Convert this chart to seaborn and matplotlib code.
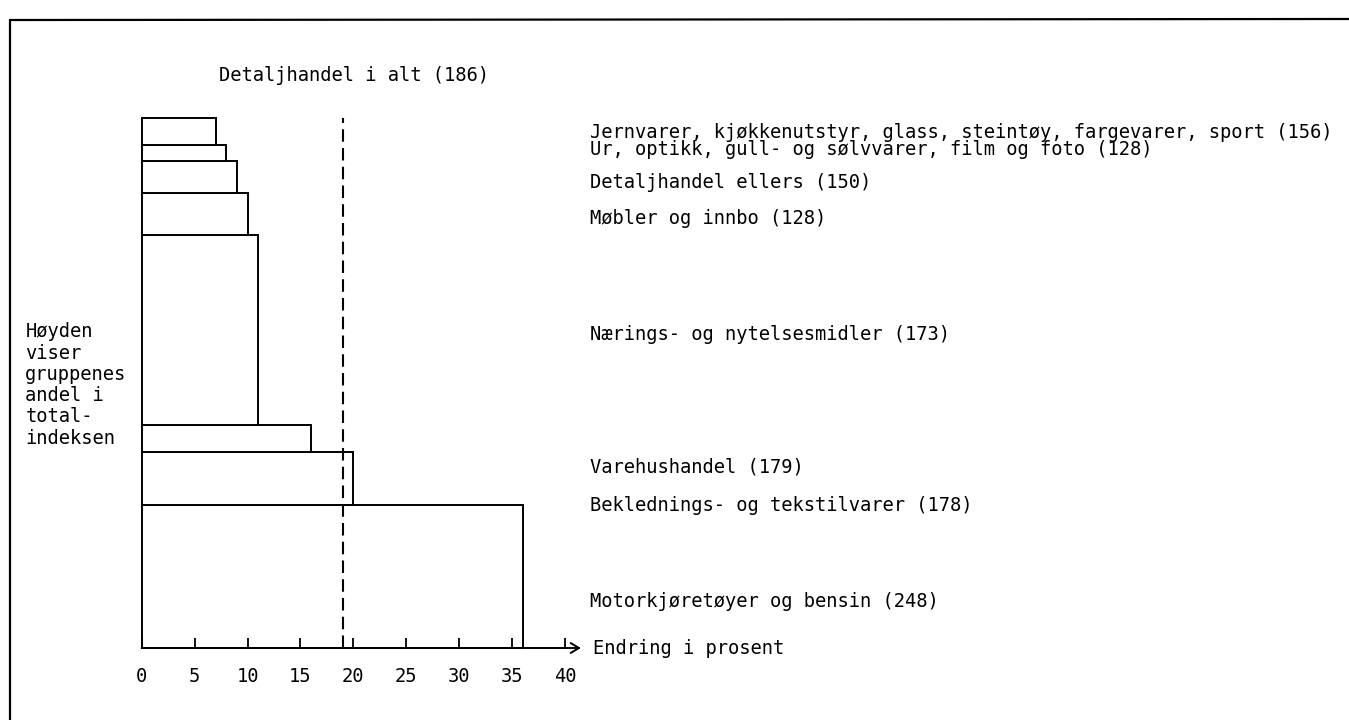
import matplotlib
matplotlib.use("Agg")
import matplotlib.pyplot as plt
from matplotlib.lines import Line2D
import numpy as np
import seaborn as sns

# Groups from bottom to top: percent change (bar length) and share of the total index (bar height)
GROUPS = [
    "Motorkjøretøyer og bensin (248)",
    "Beklednings- og tekstilvarer (178)",
    "Varehushandel (179)",
    "Nærings- og nytelsesmidler (173)",
    "Møbler og innbo (128)",
    "Detaljhandel ellers (150)",
    "Ur, optikk, gull- og sølvvarer, film og foto (128)",
    "Jernvarer, kjøkkenutstyr, glass, steintøy, fargevarer, sport (156)",
]
CHANGE = [36, 20, 16, 11, 10, 9, 8, 7]
SHARE = [27.0, 10.0, 5.0, 35.9, 7.9, 6.1, 3.1, 5.0]
TOTAL_CHANGE = 19
TOTAL_LABEL = "Detaljhandel i alt (186)"
XTICKS = [0, 5, 10, 15, 20, 25, 30, 35, 40]
XLABEL = "Endring i prosent"
NOTE = "Høyden\nviser\ngruppenes\nandel i\ntotal-\nindeksen"

# label y positions (layout, data units of the share axis)
LABEL_Y = [8.7, 26.8, 34.2, 59.2, 81.1, 87.9, 94.0, 97.3]

sns.set_theme(style="white")
plt.rcParams["font.family"] = ["DejaVu Sans Mono", "DejaVu Sans"]
plt.rcParams["text.color"] = "black"
plt.rcParams["xtick.color"] = "black"
FS = 13.5

fig = plt.figure(figsize=(13.49, 7.2), dpi=100)
ax = fig.add_axes([141.7 / 1349, 72 / 720, 423.3 / 1349, 530 / 720])
ax.set_axisbelow(False)

bottoms = np.concatenate([[0], np.cumsum(SHARE)[:-1]])
ax.barh(bottoms, CHANGE, height=SHARE, left=0, align="edge",
        facecolor="white", edgecolor="black", linewidth=1.4, clip_on=False)

# total retail trade
ax.axvline(TOTAL_CHANGE, ymin=0, ymax=1, color="black", linewidth=1.5,
           linestyle=(0, (6, 3)), clip_on=False)
ax.text(7.3, 108, TOTAL_LABEL, fontsize=FS, va="center", ha="left", clip_on=False)

# group labels to the right
for name, y in zip(GROUPS, LABEL_Y):
    ax.text(42.4, y, name, fontsize=FS, va="center", ha="left", clip_on=False)

ax.text(-11.0, 49.6, NOTE, fontsize=FS, va="center", ha="left",
        linespacing=1.15, clip_on=False)

# x axis with arrow
ax.set_xlim(0, 40)
ax.set_ylim(0, 100)
for s in ["left", "right", "top", "bottom"]:
    ax.spines[s].set_visible(False)
ax.annotate("", xy=(41.5, 0), xytext=(0, 0),
            arrowprops=dict(arrowstyle="->,head_length=0.5,head_width=0.3",
                            color="black", lw=1.4, shrinkA=0, shrinkB=0),
            annotation_clip=False)
ax.text(42.6, 0, XLABEL, fontsize=FS, va="center", ha="left", clip_on=False)
ax.set_xticks(XTICKS)
ax.set_xticklabels([str(t) for t in XTICKS])
ax.tick_params(axis="x", direction="in", length=7.5, width=1.3, color="black",
               pad=14, labelsize=FS, labelcolor="black", bottom=True)
ax.set_yticks([])

# frame of the page
fig.add_artist(Line2D([10 / 1349, 1], [1 - 20 / 720, 1 - 19 / 720],
                      transform=fig.transFigure, color="black", lw=1.6))
fig.add_artist(Line2D([10 / 1349, 10 / 1349], [0, 1 - 20 / 720],
                      transform=fig.transFigure, color="black", lw=1.6))

fig.savefig("out.png", dpi=100)
